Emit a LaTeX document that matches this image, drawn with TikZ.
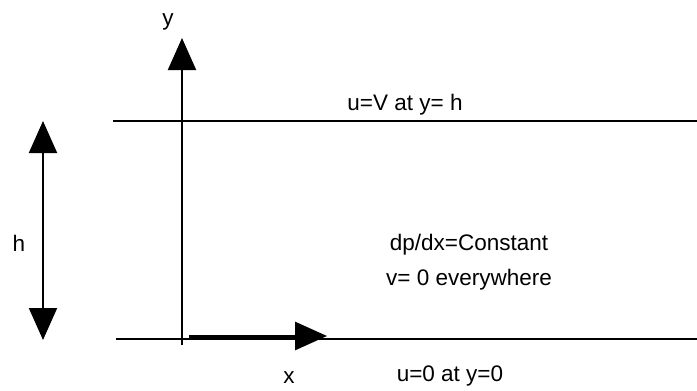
\documentclass[tikz,border=0pt]{standalone}
\usepackage{fontspec}
\setmainfont{Liberation Sans}
\usetikzlibrary{arrows.meta}
\begin{document}
\begin{tikzpicture}[x=1pt,y=-1pt,
  wall/.style={line width=2pt},
  axis/.style={line width=2pt,-{Triangle[length=32pt,width=28pt]}},
  lbl/.style={font=\fontsize{22.5}{26}\selectfont,inner sep=0pt}]
\useasboundingbox (0,0) rectangle (697,391);
% walls
\coordinate (tl) at (113,121);
\coordinate (tr) at (697,121);
\coordinate (bl) at (116,339);
\coordinate (br) at (697,339);
\draw[wall] (tl) -- (tr);
\draw[wall] (bl) -- (br);
% y axis
\coordinate (yo) at (182,345);
\coordinate (yt) at (182,38);
\draw[axis] (yo) -- (yt);
% x axis
\coordinate (xo) at (189,336);
\coordinate (xt) at (327,336);
\draw[axis,line width=3pt] (xo) -- (xt);
% h arrow
\coordinate (ht) at (43,121);
\coordinate (hb) at (43,340);
\draw[line width=2pt,{Triangle[length=32pt,width=28pt]}-{Triangle[length=32pt,width=28pt]}] (ht) -- (hb);
% labels
\node[lbl] (ylab) at (168,22) {y};
\node[lbl] (hlab) at (19,243) {h};
\node[lbl] (xlab) at (289,378) {x};
\node[lbl] (top) at (405,105) {u=V at y= h};
\node[lbl] (dp) at (469,245) {dp/dx=Constant};
\node[lbl] (v0) at (469,280) {v= 0 everywhere};
\node[lbl] (bot) at (450,376) {u=0 at y=0};
\end{tikzpicture}
\end{document}
